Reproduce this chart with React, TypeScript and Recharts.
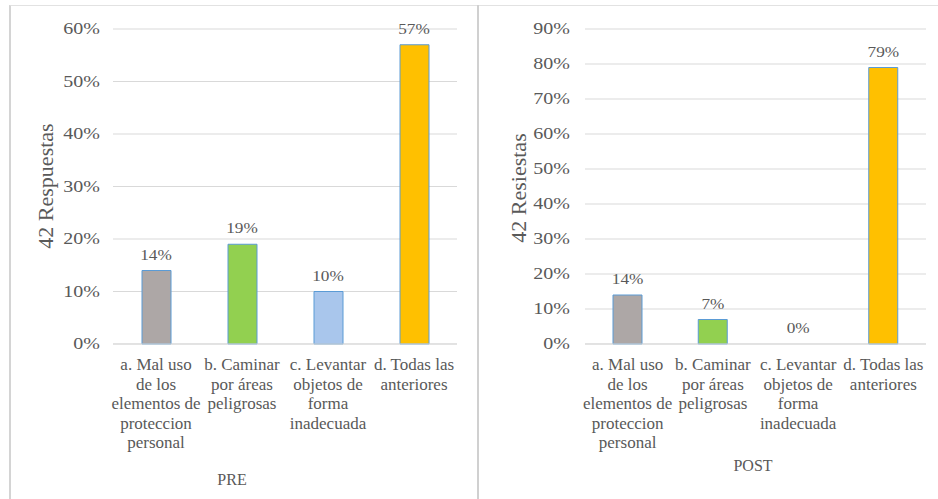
import React from 'react';
import { ComposedChart, Bar, Line, XAxis, YAxis, CartesianGrid, LabelList, Cell, Label } from 'recharts';

const categories = [
  'a. Mal uso\nde los\nelementos de\nproteccion\npersonal',
  'b. Caminar\npor áreas\npeligrosas',
  'c. Levantar\nobjetos de\nforma\ninadecuada',
  'd. Todas las\nanteriores',
];
const preValues = [14, 19, 10, 57];
const postValues = [14, 7, 0, 79];
const preTicks = [0, 10, 20, 30, 40, 50, 60];
const postTicks = [0, 10, 20, 30, 40, 50, 60, 70, 80, 90];
const barColors = ['#ADA7A6', '#92D050', '#A9C6EC', '#FFC000'];

const FONT = '"Liberation Serif", "Times New Roman", serif';
const TEXT = '#595959';

const PercentTick = (props: any) => {
  const { x, y, payload } = props;
  return (
    <g transform={`translate(${x},${y})`}>
      <text transform="scale(1.25,1)" textAnchor="end" dy={5} fontSize={16} fill={TEXT} fontFamily={FONT}>
        {payload.value}%
      </text>
    </g>
  );
};

const CategoryTick = (props: any) => {
  const { x, y, payload } = props;
  const lines = String(payload.value).split('\n');
  return (
    <text x={x} y={y + 18} textAnchor="middle" fontSize={17} fill={TEXT} fontFamily={FONT}>
      {lines.map((l, i) => (
        <tspan key={i} x={x} dy={i === 0 ? 0 : 19.5}>{l}</tspan>
      ))}
    </text>
  );
};

// labels hang off an invisible line so a 0% bar still gets its label
const ValueLabel = (props: any) => {
  const { x, y, value } = props;
  return (
    <g transform={`translate(${Number(x)},${Number(y) - 11})`}>
      <text transform="scale(1.15,1)" textAnchor="middle" fontSize={15} fill={TEXT} fontFamily={FONT}>
        {value}%
      </text>
    </g>
  );
};

type PanelProps = {
  values: number[];
  ticks: number[];
  left: number;
  width: number;
  margin: { top: number; right: number; bottom: number; left: number };
  tickMargin: number;
  yTitle: string;
  yTitlePos: [number, number];
  xTitle: string;
  xTitlePos: [number, number];
};

const Panel = ({ values, ticks, left, width, margin, tickMargin, yTitle, yTitlePos, xTitle, xTitlePos }: PanelProps) => {
  const data = categories.map((name, i) => ({ name, value: values[i] }));
  return (
    <div style={{ position: 'absolute', left, top: 0 }}>
      <ComposedChart width={width} height={499} data={data} margin={margin} barSize={29}>
        <CartesianGrid vertical={false} stroke="#D9D9D9" />
        <XAxis dataKey="name" axisLine={{ stroke: '#D9D9D9' }} tickLine={false} interval={0} height={150} tick={<CategoryTick />}>
          <Label
            content={() => (
              <text x={xTitlePos[0]} y={xTitlePos[1]} textAnchor="middle" fontSize={16} fill={TEXT} fontFamily={FONT}>
                {xTitle}
              </text>
            )}
          />
        </XAxis>
        <YAxis
          domain={[0, ticks[ticks.length - 1]]}
          ticks={ticks}
          axisLine={false}
          tickLine={false}
          width={60}
          tickMargin={tickMargin}
          tick={<PercentTick />}
        >
          <Label
            content={() => (
              <text
                x={yTitlePos[0]}
                y={yTitlePos[1]}
                transform={`rotate(-90 ${yTitlePos[0]} ${yTitlePos[1]})`}
                textAnchor="middle"
                dominantBaseline="central"
                fontSize={22}
                fill={TEXT}
                fontFamily={FONT}
              >
                {yTitle}
              </text>
            )}
          />
        </YAxis>
        <Bar dataKey="value" isAnimationActive={false} stroke="#5B9BD5" strokeWidth={1}>
          {data.map((d, i) => (
            <Cell key={d.name} fill={barColors[i]} />
          ))}
        </Bar>
        <Line dataKey="value" isAnimationActive={false} stroke="none" dot={false} activeDot={false}>
          <LabelList dataKey="value" content={<ValueLabel />} />
        </Line>
      </ComposedChart>
    </div>
  );
};

export default function App() {
  return (
    <div style={{ position: 'absolute', left: 0, top: 0, width: 938, height: 499, background: '#fff', overflow: 'hidden' }}>
      <div style={{ position: 'absolute', left: 9, top: 5, width: 940, height: 500, borderTop: '1px solid #E2E2E2', borderLeft: '2px solid #D4D4D4' }} />
      <div style={{ position: 'absolute', left: 477, top: 5, width: 2, height: 500, background: '#D0D0D0' }} />
      <Panel
        values={preValues}
        ticks={preTicks}
        left={0}
        width={470}
        margin={{ top: 29, right: 13, bottom: 5, left: 53 }}
        tickMargin={7}
        yTitle="42 Respuestas"
        yTitlePos={[45, 186]}
        xTitle="PRE"
        xTitlePos={[232, 485]}
      />
      <Panel
        values={postValues}
        ticks={postTicks}
        left={470}
        width={468}
        margin={{ top: 29, right: 12, bottom: 5, left: 55 }}
        tickMargin={9}
        yTitle="42 Resiestas"
        yTitlePos={[48, 188]}
        xTitle="POST"
        xTitlePos={[283, 471]}
      />
    </div>
  );
}
